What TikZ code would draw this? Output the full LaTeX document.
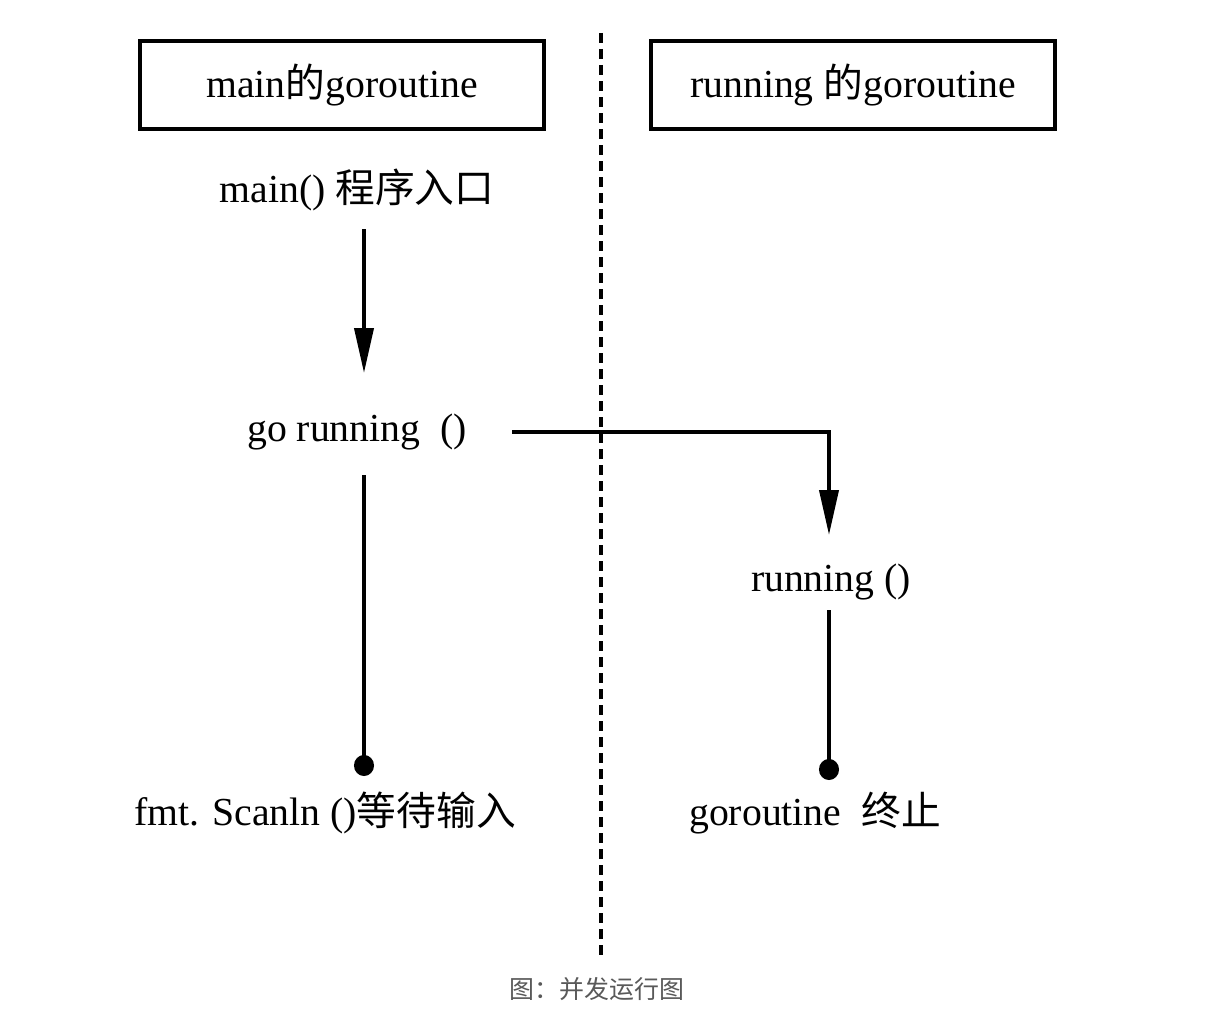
\documentclass[tikz,border=0pt]{standalone}
\usepackage{fontspec}
\setmainfont{Liberation Serif}
\newfontfamily\cjk{Noto Sans CJK SC}
\usetikzlibrary{arrows.meta}

\begin{document}
\begin{tikzpicture}[
    txt/.style={font=\fontsize{11.3}{13}\selectfont, inner sep=0pt},
    gbox/.style={draw, line width=1.1pt, minimum width=4.04cm, minimum height=0.88cm, txt},
    arr/.style={line width=1.1pt, -{Triangle[length=0.45cm, width=0.19cm]}},
    lifeline/.style={line width=1.1pt, -{Circle[length=0.21cm, width=0.2cm]}}
]
    \useasboundingbox (0,0) rectangle (12.2,10.15);
    \draw [line width=1pt, dash pattern=on 0.1cm off 0.06cm] (6.01,9.82) -- (6.01,0.58);

    \node[gbox] (mainbox) at (3.42,9.30) {main{\cjk 的}goroutine};
    \node[gbox] (runbox) at (8.53,9.30) {running {\cjk 的}goroutine};

    \node[txt] (entry) at (3.57,8.25) {main() {\cjk 程序入口}};
    \node[txt] (gorun) at (3.57,5.83) {go running\ \ ()};
    \node[txt] (run) at (8.31,4.33) {running ()};
    \node[txt] (scan) at (3.25,2.02) {fmt. Scanln (){\cjk 等待输入}};
    \node[txt] (stop) at (8.15,2.02) {goroutine\ \ {\cjk 终止}};

    \draw [arr, shorten <=0.39cm, shorten >=0.59cm] ([xshift=0.07cm]entry.center) -- ([xshift=0.07cm]gorun.center);
    \draw [arr, shorten <=1.55cm, shorten >=0.47cm] (gorun.center) -| ([xshift=-0.02cm]run.center);
    \draw [lifeline, shorten <=0.43cm, shorten >=0.37cm] ([xshift=0.07cm]gorun.center) -- ([xshift=0.39cm]scan.center);
    \draw [lifeline, shorten <=0.28cm, shorten >=0.33cm] ([xshift=-0.02cm]run.center) -- ([xshift=0.14cm]stop.center);

    \node[font=\cjk\fontsize{7.1}{8}\selectfont, text=black!65] (caption) at (5.97,0.26) {图：并发运行图};
\end{tikzpicture}
\end{document}
